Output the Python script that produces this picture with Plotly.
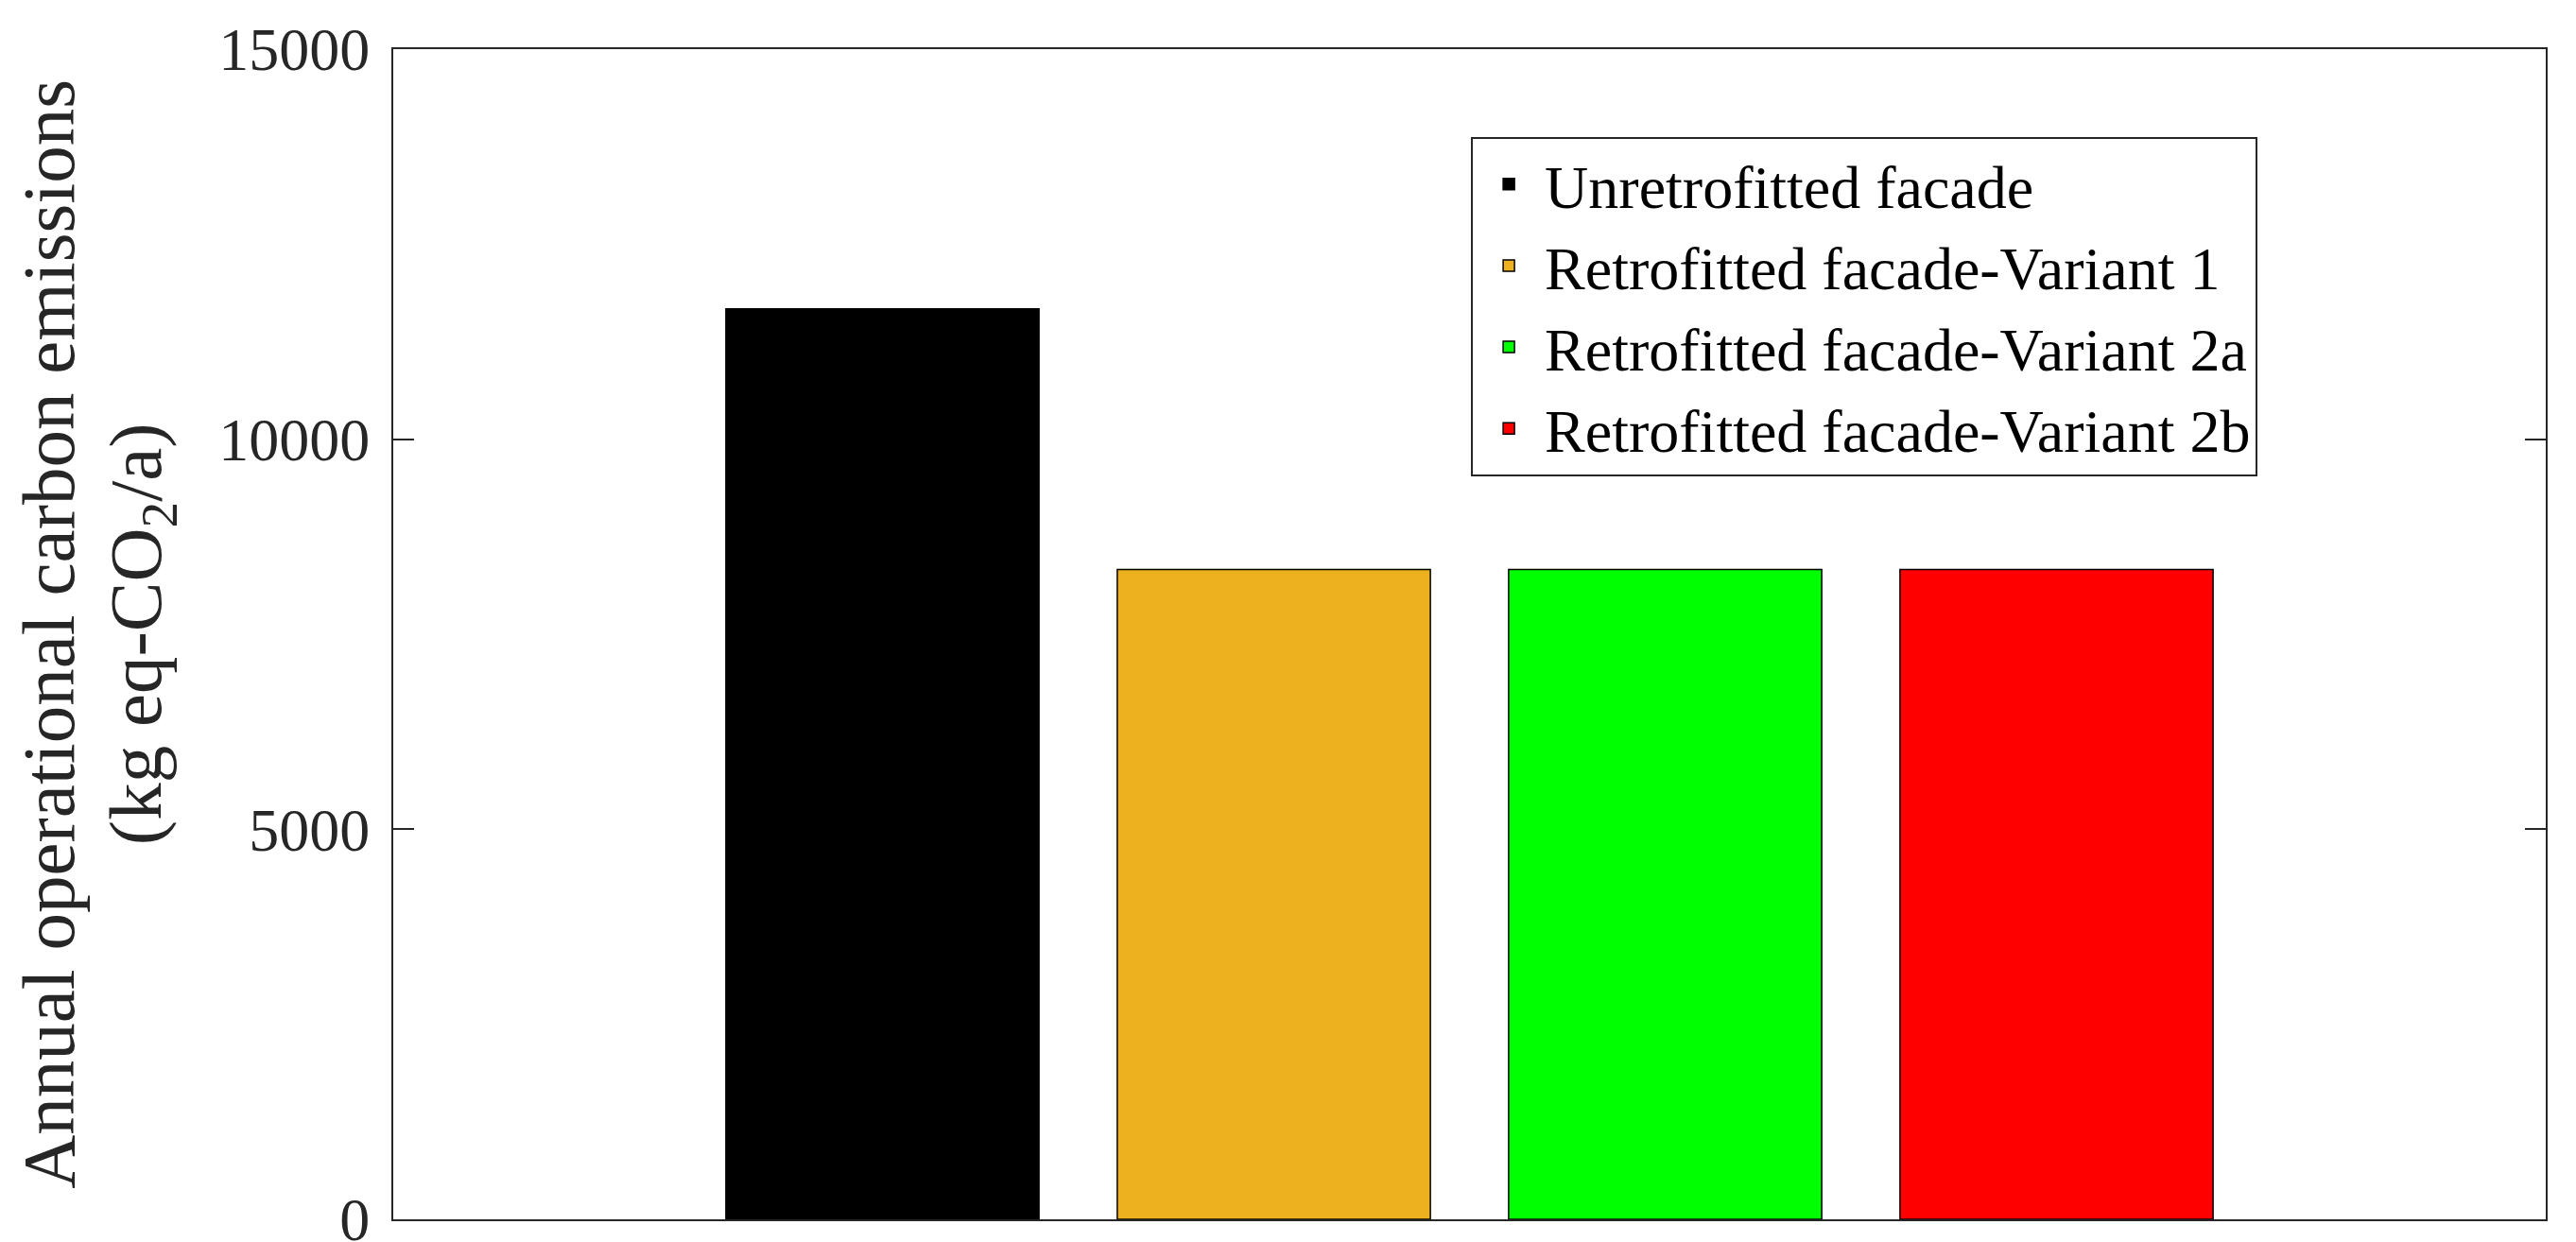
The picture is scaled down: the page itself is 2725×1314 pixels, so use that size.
import plotly.graph_objects as go

# ---- data ----
categories = ["Unretrofitted facade", "Retrofitted facade-Variant 1",
              "Retrofitted facade-Variant 2a", "Retrofitted facade-Variant 2b"]
positions = [1, 2, 3, 4]
emissions = [11670, 8330, 8330, 8330]
colors = ["#000000", "#EDB120", "#00FF00", "#FF0000"]
y_ticks = [0, 5000, 10000, 15000]
y_tick_labels = ["0", "5000", "10000", "15000"]
y_title_line1 = "Annual operational carbon emissions"
y_title_line2 = "(kg eq-CO<sub>2</sub>/a)"

FONT = "Liberation Serif, Times New Roman, serif"
AX = "#262626"

fig = go.Figure()
for name, xpos, val, col in zip(categories, positions, emissions, colors):
    fig.add_trace(go.Bar(
        x=[xpos], y=[val], name=name, width=0.8,
        marker=dict(color=col, line=dict(color="#000000", width=1.5)),
    ))

# the page body has an 8px margin, so the figure is 8px smaller than the window
fig.update_layout(
    width=2717, height=1306,
    margin=dict(l=408, r=32, t=44, b=24, autoexpand=False),
    paper_bgcolor="white", plot_bgcolor="white",
    barmode="overlay",
    font=dict(family=FONT, color="#000000"),
    legend=dict(
        x=0.5007, y=0.9252, xanchor="left", yanchor="top",
        bgcolor="white", bordercolor=AX, borderwidth=2,
        font=dict(family=FONT, size=64, color="#000000"),
        itemwidth=66, tracegroupgap=0,
    ),
    showlegend=True,
)
# second line of the y-axis title (kept tight to the first line as in the reference)
fig.add_annotation(
    text=y_title_line2, textangle=-90, showarrow=False,
    xref="paper", yref="paper", x=-0.1172, y=0.5,
    xanchor="center", yanchor="middle",
    font=dict(family=FONT, size=79, color="#262626"),
)
fig.update_xaxes(
    range=[-0.25, 5.25], showticklabels=False, ticks="",
    showline=True, linecolor=AX, linewidth=2, mirror=True,
    showgrid=False, zeroline=False, automargin=False,
)
fig.update_yaxes(
    range=[0, 15000], tickvals=y_ticks, ticktext=y_tick_labels,
    ticks="inside", ticklen=22, tickwidth=2, tickcolor=AX,
    tickfont=dict(family=FONT, size=64, color="#262626"),
    ticklabeloverflow="allow", ticklabelstandoff=10,
    showline=True, linecolor=AX, linewidth=2, mirror="ticks",
    showgrid=False, zeroline=False, automargin=False,
    title=dict(text=y_title_line1,
               font=dict(family=FONT, size=79, color="#262626"), standoff=150),
)

fig.write_html("out.html")
